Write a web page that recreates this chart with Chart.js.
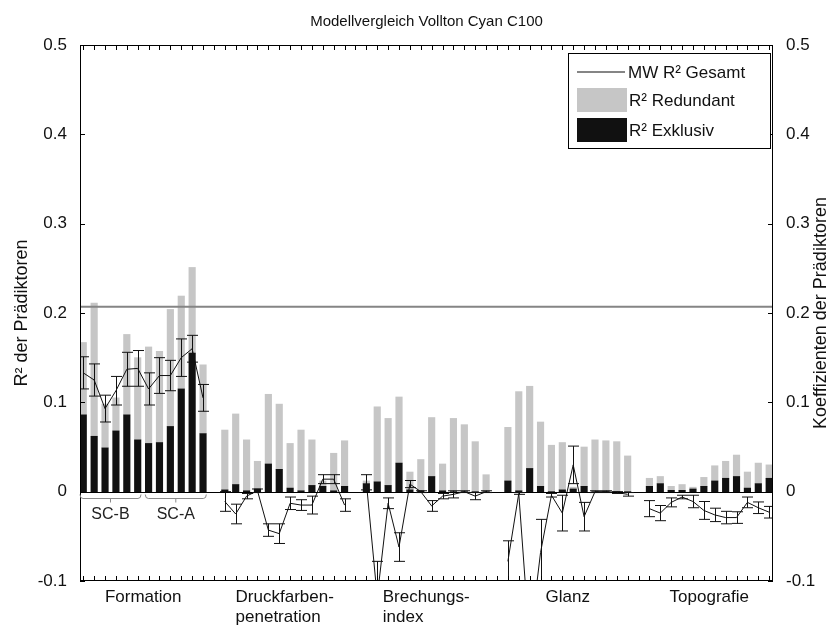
<!DOCTYPE html>
<html>
<head>
<meta charset="utf-8">
<title>Modellvergleich Vollton Cyan C100</title>
<script src="https://cdn.jsdelivr.net/npm/chart.js@4.4.1/dist/chart.umd.min.js"></script>
<style>
  html, body { margin: 0; padding: 0; background: #fff; }
  #wrap { width: 838px; height: 626px; }
</style>
</head>
<body>
<div id="wrap"><canvas id="chart" width="838" height="626"></canvas></div>
<script>
const chartTitle = 'Modellvergleich Vollton Cyan C100';
const groupLabels = [['Formation'], ['Druckfarben-', 'penetration'], ['Brechungs-', 'index'], ['Glanz'], ['Topografie']];
const subGroups = [{ label: 'SC-B', from: 1, to: 6 }, { label: 'SC-A', from: 7, to: 12 }];
const perGroup = 12;

// R² exklusiv (black part)
const r2Exklusiv = [
  0.086, 0.062, 0.049, 0.068, 0.086, 0.058, 0.054, 0.055, 0.073, 0.115, 0.155, 0.065,
  0.002, 0.008, 0.001, 0.003, 0.031, 0.025, 0.004, 0.001, 0.007, 0.006, 0.001, 0.006,
  0.009, 0.011, 0.007, 0.032, 0.002, 0.001, 0.017, 0.001, 0, 0, 0, 0,
  0.012, 0.001, 0.026, 0.006, 0, 0.002, 0.003, 0.006, 0, 0, 0, 0,
  0.006, 0.009, 0.0015, 0.0015, 0.003, 0.006, 0.012, 0.015, 0.017, 0.004, 0.009, 0.015
];
// R² redundant (grey part, stacked on top)
const r2Redundant = [
  0.081, 0.149, 0.049, 0.037, 0.090, 0.092, 0.108, 0.102, 0.131, 0.104, 0.096, 0.077,
  0.067, 0.079, 0.057, 0.031, 0.078, 0.073, 0.050, 0.068, 0.051, 0.006, 0.042, 0.051,
  0.003, 0.084, 0.075, 0.074, 0.020, 0.035, 0.066, 0.030, 0.082, 0.075, 0.056, 0.019,
  0.060, 0.111, 0.092, 0.072, 0.052, 0.053, 0.002, 0.044, 0.058, 0.057, 0.056, 0.040,
  0.009, 0.008, 0.0045, 0.0065, 0.002, 0.010, 0.017, 0.019, 0.024, 0.018, 0.023, 0.015
];
// Koeffizienten (right axis) and their error bar half widths
const koeffizient = [
  0.133, 0.125, 0.093, 0.113, 0.137, 0.138, 0.115, 0.130, 0.130, 0.150, 0.160, 0.105,
  -0.011, -0.025, -0.005, 0.001, -0.043, -0.047, -0.013, -0.015, -0.015, 0.014, 0.014, -0.015,
  0.0105, -0.118, -0.013, -0.062, 0.0085, 0.0, -0.016, -0.005, -0.003, 0.0, -0.005, 0.0,
  -0.078, -0.002, -0.170, -0.068, -0.004, -0.024, 0.030, -0.028, 0.0, 0.0, -0.001, -0.003,
  -0.019, -0.024, -0.012, -0.006, -0.011, -0.021, -0.026, -0.029, -0.029, -0.012, -0.018, -0.023
];
const koeffFehler = [
  0.018, 0.018, 0.015, 0.016, 0.019, 0.020, 0.018, 0.020, 0.017, 0.021, 0.015, 0.015,
  0.011, 0.011, 0.003, 0.002, 0.007, 0.011, 0.007, 0.006, 0.010, 0.005, 0.005, 0.007,
  0.0085, 0.040, 0.006, 0.016, 0.004, 0.001, 0.006, 0.003, 0.004, 0.001, 0.004, 0.001,
  0.023, 0.001, 0.030, 0.037, 0.002, 0.020, 0.021, 0.016, 0.001, 0.001, 0.001, 0.002,
  0.009, 0.0085, 0.005, 0.002, 0.007, 0.010, 0.0075, 0.007, 0.0065, 0.006, 0.0065, 0.0065
];
const mwR2Gesamt = 0.207;
const yMin = -0.1, yMax = 0.5, yStep = 0.1;
const xMin = 0.7, xMax = 64.35;

const grey = '#c6c6c6', black = '#111111', mwColor = '#858585';
const fontFamily = "'Liberation Sans', Arial, sans-serif";

// one empty slot between groups
const xPos = r2Exklusiv.map((_, i) => Math.floor(i / perGroup) * (perGroup + 1) + (i % perGroup) + 1);

const lineData = [];
koeffizient.forEach((v, i) => {
  if (i > 0 && i % perGroup === 0) lineData.push({ x: xPos[i] - 1, y: null });
  lineData.push({ x: xPos[i], y: v });
});

const tickLabel = v => {
  const r = Math.round(v * 10) / 10;
  return r === 0 ? '0' : String(r);
};

const matlabLook = {
  id: 'matlabLook',
  beforeDraw(chart) {
    const { ctx, width, height } = chart;
    ctx.save();
    ctx.fillStyle = '#fff';
    ctx.fillRect(0, 0, width, height);
    ctx.restore();
  },
  afterDatasetsDraw(chart) {
    const { ctx, chartArea: a, scales: { x, y, y2 } } = chart;

    // bar baseline
    ctx.save();
    ctx.strokeStyle = '#000';
    ctx.lineWidth = 1;
    const y0 = Math.round(y.getPixelForValue(0)) + 0.5;
    ctx.beginPath();
    ctx.moveTo(a.left, y0);
    ctx.lineTo(a.right, y0);
    ctx.stroke();

    // error bars
    ctx.beginPath();
    ctx.rect(a.left, a.top, a.right - a.left, a.bottom - a.top);
    ctx.clip();
    ctx.strokeStyle = black;
    koeffizient.forEach((c, i) => {
      const px = Math.round(x.getPixelForValue(xPos[i])) + 0.5;
      const top = y2.getPixelForValue(c + koeffFehler[i]);
      const bot = y2.getPixelForValue(c - koeffFehler[i]);
      ctx.beginPath();
      ctx.moveTo(px, top); ctx.lineTo(px, bot);
      ctx.moveTo(px - 5.5, top); ctx.lineTo(px + 5.5, top);
      ctx.moveTo(px - 5.5, bot); ctx.lineTo(px + 5.5, bot);
      ctx.stroke();
    });
    ctx.restore();

    // box and inward ticks
    ctx.save();
    ctx.strokeStyle = '#000';
    ctx.lineWidth = 1;
    ctx.strokeRect(a.left + 0.5, a.top + 0.5, a.right - a.left - 1, a.bottom - a.top - 1);
    ctx.beginPath();
    for (let k = Math.ceil(xMin); k <= xMax; k++) {
      const px = Math.round(x.getPixelForValue(k)) + 0.5;
      ctx.moveTo(px, a.top); ctx.lineTo(px, a.top + 5);
      ctx.moveTo(px, a.bottom); ctx.lineTo(px, a.bottom - 5);
    }
    y.ticks.forEach(t => {
      const py = Math.round(y.getPixelForValue(t.value)) + 0.5;
      ctx.moveTo(a.left, py); ctx.lineTo(a.left + 5, py);
      ctx.moveTo(a.right, py); ctx.lineTo(a.right - 5, py);
    });
    ctx.stroke();

    // SC-B / SC-A brackets
    ctx.strokeStyle = '#8a8a8a';
    ctx.fillStyle = '#222';
    ctx.font = '16px ' + fontFamily;
    ctx.textAlign = 'center';
    ctx.textBaseline = 'middle';
    subGroups.forEach(g => {
      const x1 = x.getPixelForValue(g.from - 0.3), x2 = x.getPixelForValue(g.to + 0.3);
      const xm = x.getPixelForValue((g.from + g.to) / 2);
      const yb = y0 + 6;
      ctx.beginPath();
      ctx.moveTo(x1, y0 + 2);
      ctx.quadraticCurveTo(x1, yb, x1 + 3, yb);
      ctx.lineTo(x2 - 3, yb);
      ctx.quadraticCurveTo(x2, yb, x2, y0 + 2);
      ctx.moveTo(xm, yb); ctx.lineTo(xm, yb + 4);
      ctx.stroke();
      ctx.fillText(g.label, xm, y0 + 22);
    });

    // group labels below the axis
    ctx.fillStyle = '#111';
    ctx.font = '17px ' + fontFamily;
    ctx.textAlign = 'left';
    groupLabels.forEach((lines, g) => {
      const center = x.getPixelForValue(g * (perGroup + 1) + (perGroup + 1) / 2);
      const w = Math.max(...lines.map(s => ctx.measureText(s).width));
      lines.forEach((s, k) => ctx.fillText(s, center - w / 2, a.bottom + 16 + k * 20));
    });

    // title
    ctx.textAlign = 'center';
    ctx.font = '15px ' + fontFamily;
    ctx.fillText(chartTitle, (a.left + a.right) / 2, 22);

    // right axis label, reading bottom to top
    ctx.save();
    ctx.translate(821, (a.top + a.bottom) / 2);
    ctx.rotate(-Math.PI / 2);
    ctx.font = '18px ' + fontFamily;
    ctx.fillText('Koeffizienten der Prädiktoren', 0, 0);
    ctx.restore();

    // legend
    const lx = a.right - 205, ly = a.top + 8, lw = 202, lh = 95;
    ctx.fillStyle = '#fff';
    ctx.fillRect(lx, ly, lw, lh);
    ctx.strokeStyle = '#000';
    ctx.strokeRect(lx + 0.5, ly + 0.5, lw, lh);
    ctx.strokeStyle = mwColor;
    ctx.lineWidth = 2;
    ctx.beginPath();
    ctx.moveTo(lx + 9, ly + 19); ctx.lineTo(lx + 57, ly + 19);
    ctx.stroke();
    ctx.fillStyle = grey;
    ctx.fillRect(lx + 9, ly + 35, 50, 24);
    ctx.fillStyle = black;
    ctx.fillRect(lx + 9, ly + 65, 50, 24);
    ctx.fillStyle = '#111';
    ctx.font = '17px ' + fontFamily;
    ctx.textAlign = 'left';
    ctx.fillText('MW R² Gesamt', lx + 60, ly + 20);
    ctx.fillText('R² Redundant', lx + 61, ly + 48);
    ctx.fillText('R² Exklusiv', lx + 61, ly + 78);
    ctx.restore();
  }
};

const tickFont = { family: fontFamily, size: 17 };
const axisTitleFont = { family: fontFamily, size: 18 };

new Chart(document.getElementById('chart'), {
  type: 'bar',
  data: {
    datasets: [
      {
        label: 'R² Exklusiv',
        data: r2Exklusiv.map((v, i) => ({ x: xPos[i], y: v })),
        backgroundColor: black,
        barThickness: 6.5,
        stack: 'r2',
        order: 2
      },
      {
        label: 'R² Redundant',
        data: r2Redundant.map((v, i) => ({ x: xPos[i], y: v })),
        backgroundColor: grey,
        barThickness: 6.5,
        stack: 'r2',
        order: 2
      },
      {
        type: 'line',
        label: 'Koeffizienten',
        data: lineData,
        yAxisID: 'y2',
        borderColor: black,
        borderWidth: 1,
        pointRadius: 0,
        spanGaps: false,
        tension: 0,
        order: 0
      },
      {
        type: 'line',
        label: 'MW R² Gesamt',
        data: [{ x: xMin, y: mwR2Gesamt }, { x: xMax, y: mwR2Gesamt }],
        yAxisID: 'y2',
        borderColor: mwColor,
        borderWidth: 1.8,
        pointRadius: 0,
        order: 1
      }
    ]
  },
  options: {
    responsive: false,
    animation: false,
    devicePixelRatio: 1,
    events: [],
    layout: { padding: { top: 45, left: 0, right: 0, bottom: 0 } },
    plugins: { legend: { display: false }, tooltip: { enabled: false }, title: { display: false } },
    scales: {
      x: {
        type: 'linear',
        min: xMin,
        max: xMax,
        offset: false,
        ticks: { display: false },
        grid: { display: false },
        border: { display: false },
        afterFit: s => { s.height = 45; }
      },
      y: {
        position: 'left',
        min: yMin,
        max: yMax,
        stacked: true,
        ticks: { stepSize: yStep, color: '#111', font: tickFont, padding: 5, callback: tickLabel },
        grid: { display: false },
        border: { display: false },
        title: { display: true, text: 'R² der Prädiktoren', color: '#111', font: axisTitleFont, padding: { top: 11, bottom: 0 } },
        afterFit: s => { s.width = 80; }
      },
      y2: {
        position: 'right',
        min: yMin,
        max: yMax,
        ticks: { stepSize: yStep, color: '#111', font: tickFont, padding: 5, callback: tickLabel },
        grid: { display: false },
        border: { display: false },
        afterFit: s => { s.width = 65; }
      }
    }
  },
  plugins: [matlabLook]
});
</script>
</body>
</html>
